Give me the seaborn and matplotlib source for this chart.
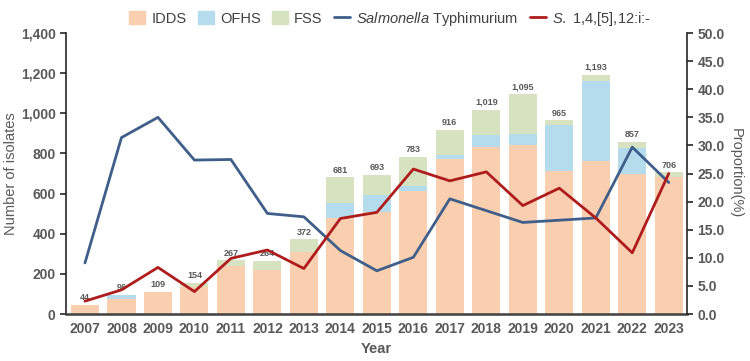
import numpy as np
import pandas as pd
import seaborn as sns
import matplotlib
matplotlib.use("Agg")
import matplotlib.pyplot as plt
from matplotlib.patches import Patch
from matplotlib.lines import Line2D
from matplotlib.ticker import FuncFormatter, FormatStrFormatter

# data
years = [2007, 2008, 2009, 2010, 2011, 2012, 2013, 2014, 2015, 2016,
         2017, 2018, 2019, 2020, 2021, 2022, 2023]
idds = [44, 75, 109, 133, 240, 222, 307, 477, 506, 614,
        772, 830, 842, 712, 762, 697, 684]
ofhs = [0, 21, 0, 0, 0, 0, 0, 77, 87, 25,
        20, 61, 54, 229, 400, 131, 0]
totals = [44, 96, 109, 154, 267, 264, 372, 681, 693, 783,
          916, 1019, 1095, 965, 1193, 857, 706]
typhimurium = [9.1, 31.4, 35.0, 27.4, 27.5, 17.9, 17.3, 11.3, 7.7, 10.1,
               20.5, 18.4, 16.3, 16.7, 17.1, 29.7, 23.4]
monophasic = [2.3, 4.3, 8.3, 4.0, 9.9, 11.4, 8.1, 17.0, 18.1, 25.8,
              23.7, 25.3, 19.3, 22.4, 17.1, 10.9, 25.0]

c_idds = "#f9cfb0"
c_ofhs = "#b4dcec"
c_fss = "#d6e2c0"
c_blue = "#3f5f8a"
c_red = "#ae1c1c"
grey = "#595959"

sns.set_style("ticks")
plt.rcParams["font.family"] = ["Liberation Sans", "DejaVu Sans"]
plt.rcParams["mathtext.fontset"] = "custom"
plt.rcParams["mathtext.it"] = "Liberation Sans:italic"
plt.rcParams["mathtext.rm"] = "Liberation Sans"

df = pd.DataFrame({"year": [str(y) for y in years], "idds": idds,
                   "ofhs": ofhs, "total": totals})
df["idds_ofhs"] = df["idds"] + df["ofhs"]

fig = plt.figure(figsize=(7.5, 3.61), dpi=100)
ax = fig.add_axes([0.088, 0.130, 0.828, 0.7785])

# stacked bars drawn from the top segment down
bw = 0.77
for col, c in [("total", c_fss), ("idds_ofhs", c_ofhs), ("idds", c_idds)]:
    sns.barplot(data=df, x="year", y=col, color=c, width=bw, saturation=1,
                linewidth=0, ax=ax, zorder=1)

ax.bar_label(ax.containers[0], labels=[f"{t:,}" for t in totals],
             padding=2, fontsize=6.5, fontweight="bold", color=grey)

ax.set_ylim(0, 1400)
ax.set_xlim(-0.52, 16.5)
ax.set_yticks(np.arange(0, 1401, 200))
ax.yaxis.set_major_formatter(FuncFormatter(lambda v, p: f"{int(v):,}"))
ax.set_ylabel("Number of isolates", fontsize=10.5, color=grey, labelpad=2)
ax.set_xlabel("Year", fontsize=10.5, fontweight="bold", color=grey, labelpad=4)
ax.tick_params(axis="y", labelsize=10, labelcolor=grey, length=4, width=1.2)
ax.tick_params(axis="x", labelsize=10, labelcolor=grey, length=0, pad=6)
for lab in ax.get_xticklabels() + ax.get_yticklabels():
    lab.set_fontweight("bold")
ax.spines["top"].set_visible(False)
ax.spines["right"].set_visible(False)
ax.spines["left"].set_linewidth(1.2)
ax.spines["bottom"].set_linewidth(1.8)
ax.spines["bottom"].set_color("#404040")

# proportions on the right axis
ax2 = ax.twinx()
xpos = np.arange(len(years))
sns.lineplot(x=xpos, y=typhimurium, color=c_blue, linewidth=2, ax=ax2)
sns.lineplot(x=xpos, y=monophasic, color=c_red, linewidth=2, ax=ax2)
ax2.set_ylim(0, 50)
ax2.set_xlim(-0.52, 16.5)
ax2.set_yticks(np.arange(0, 50.1, 5))
ax2.yaxis.set_major_formatter(FormatStrFormatter("%.1f"))
ax2.tick_params(axis="y", labelsize=10, labelcolor=grey, length=4, width=1.2)
for lab in ax2.get_yticklabels():
    lab.set_fontweight("bold")
ax2.set_ylabel("Proportion(%)", fontsize=10.5, color=grey, rotation=270,
               labelpad=13)
ax2.spines["top"].set_visible(False)
ax2.spines["left"].set_visible(False)
ax2.spines["bottom"].set_visible(False)
ax2.spines["right"].set_linewidth(1.2)

handles = [Patch(color=c_idds), Patch(color=c_ofhs), Patch(color=c_fss),
           Line2D([], [], color=c_blue, linewidth=2),
           Line2D([], [], color=c_red, linewidth=2)]
labels = ["IDDS", "OFHS", "FSS", r"$\it{Salmonella}$ Typhimurium",
          r"$\it{S.}$ 1,4,[5],12:i:-"]
fig.legend(handles, labels, loc="upper center", bbox_to_anchor=(0.52, 1.01),
           ncol=5, frameon=False, fontsize=10.5, handlelength=1.1,
           handleheight=1.0, handletextpad=0.4, columnspacing=0.8,
           labelcolor="#404040")

fig.savefig("out.png", dpi=100)
